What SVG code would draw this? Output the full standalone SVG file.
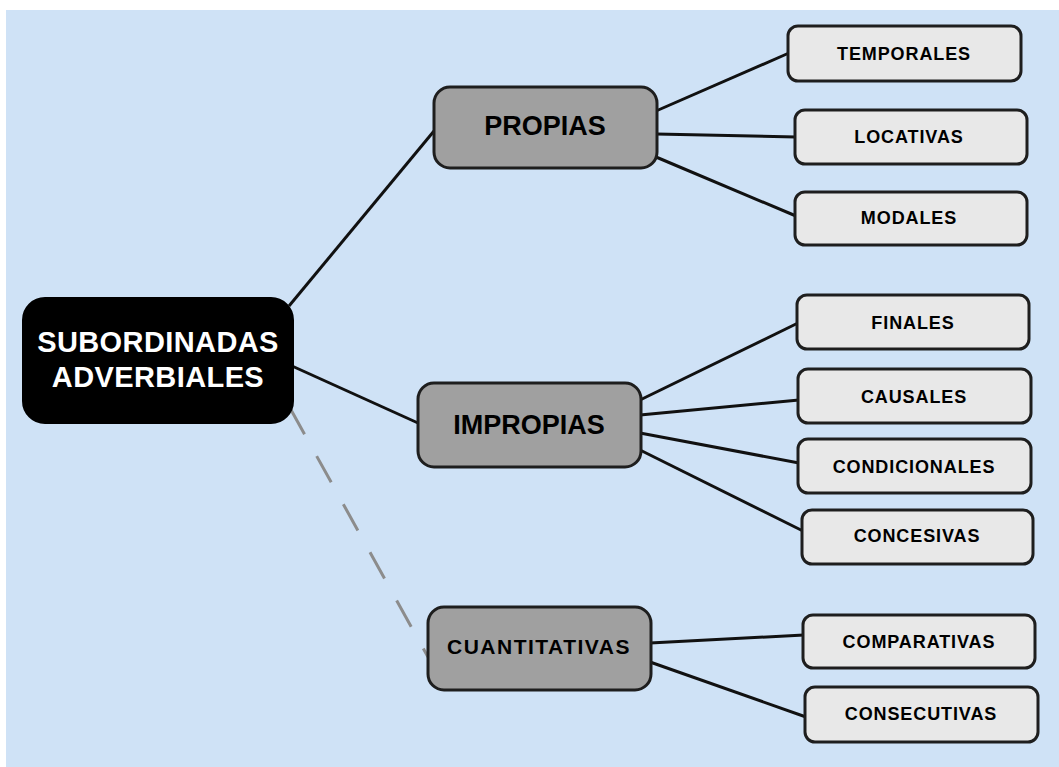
<svg xmlns="http://www.w3.org/2000/svg" width="1059" height="767" viewBox="0 0 1059 767">
<style>
.root{fill:#000;stroke:#000;stroke-width:2}
.mid{fill:#a0a0a0;stroke:#1e1e1e;stroke-width:3}
.leaf{fill:#e8e8e8;stroke:#1e1e1e;stroke-width:3}
.rt{font-family:"Liberation Sans",Arial,sans-serif;font-weight:bold;font-size:29px;fill:#fff;text-anchor:middle;letter-spacing:0.4px}
.mt{font-family:"Liberation Sans",Arial,sans-serif;font-weight:bold;font-size:27px;fill:#000;text-anchor:middle}
.ct{font-family:"Liberation Sans",Arial,sans-serif;font-weight:bold;font-size:21px;fill:#000;text-anchor:middle;letter-spacing:1.5px}
.lt{font-family:"Liberation Sans",Arial,sans-serif;font-weight:bold;font-size:18px;fill:#000;text-anchor:middle;letter-spacing:0.9px}
.ln{stroke:#111;stroke-width:3;fill:none}
.dash{stroke:#8c8c8c;stroke-width:3;fill:none;stroke-dasharray:30 25}
</style>
<rect x="0" y="0" width="1059" height="767" fill="#fff"/>
<rect x="6" y="10" width="1053" height="757" fill="#cfe2f6"/>
<g id="connectors">
<line class="ln" x1="289" y1="306" x2="434" y2="131"/>
<line class="ln" x1="292" y1="366" x2="418" y2="423"/>
<line class="dash" x1="290" y1="408" x2="428" y2="657"/>
<line class="ln" x1="656" y1="111" x2="789" y2="53"/>
<line class="ln" x1="656" y1="134" x2="796" y2="137"/>
<line class="ln" x1="656" y1="157" x2="796" y2="216"/>
<line class="ln" x1="640" y1="400" x2="798" y2="323"/>
<line class="ln" x1="640" y1="415" x2="799" y2="400"/>
<line class="ln" x1="640" y1="433" x2="799" y2="463"/>
<line class="ln" x1="640" y1="450" x2="803" y2="531"/>
<line class="ln" x1="650" y1="643" x2="804" y2="635"/>
<line class="ln" x1="650" y1="662" x2="806" y2="717"/>
</g>
<g id="n-root"><rect class="root" x="23" y="298" width="270" height="125" rx="22"/><text class="rt" x="158" y="352">SUBORDINADAS</text><text class="rt" x="158" y="387">ADVERBIALES</text></g>
<g id="n-propias"><rect class="mid" x="434" y="87" width="223" height="81" rx="16"/><text class="mt" x="545" y="135">PROPIAS</text></g>
<g id="n-impropias"><rect class="mid" x="418" y="383" width="223" height="84" rx="16"/><text class="mt" x="529" y="434">IMPROPIAS</text></g>
<g id="n-cuantitativas"><rect class="mid" x="428" y="607" width="223" height="83" rx="16"/><text class="ct" x="539" y="654">CUANTITATIVAS</text></g>
<g id="n-temporales"><rect class="leaf" x="788" y="26" width="233" height="55" rx="10"/><text class="lt" x="904" y="60">TEMPORALES</text></g>
<g id="n-locativas"><rect class="leaf" x="795" y="110" width="232" height="54" rx="10"/><text class="lt" x="909" y="143">LOCATIVAS</text></g>
<g id="n-modales"><rect class="leaf" x="795" y="192" width="232" height="53" rx="10"/><text class="lt" x="909" y="224">MODALES</text></g>
<g id="n-finales"><rect class="leaf" x="797" y="295" width="232" height="54" rx="10"/><text class="lt" x="913" y="329">FINALES</text></g>
<g id="n-causales"><rect class="leaf" x="798" y="369" width="233" height="54" rx="10"/><text class="lt" x="914" y="403">CAUSALES</text></g>
<g id="n-condicionales"><rect class="leaf" x="798" y="439" width="233" height="54" rx="10"/><text class="lt" x="914" y="473">CONDICIONALES</text></g>
<g id="n-concesivas"><rect class="leaf" x="802" y="510" width="231" height="54" rx="10"/><text class="lt" x="917" y="542">CONCESIVAS</text></g>
<g id="n-comparativas"><rect class="leaf" x="803" y="615" width="232" height="53" rx="10"/><text class="lt" x="919" y="648">COMPARATIVAS</text></g>
<g id="n-consecutivas"><rect class="leaf" x="805" y="687" width="233" height="55" rx="10"/><text class="lt" x="921" y="720">CONSECUTIVAS</text></g>
</svg>
